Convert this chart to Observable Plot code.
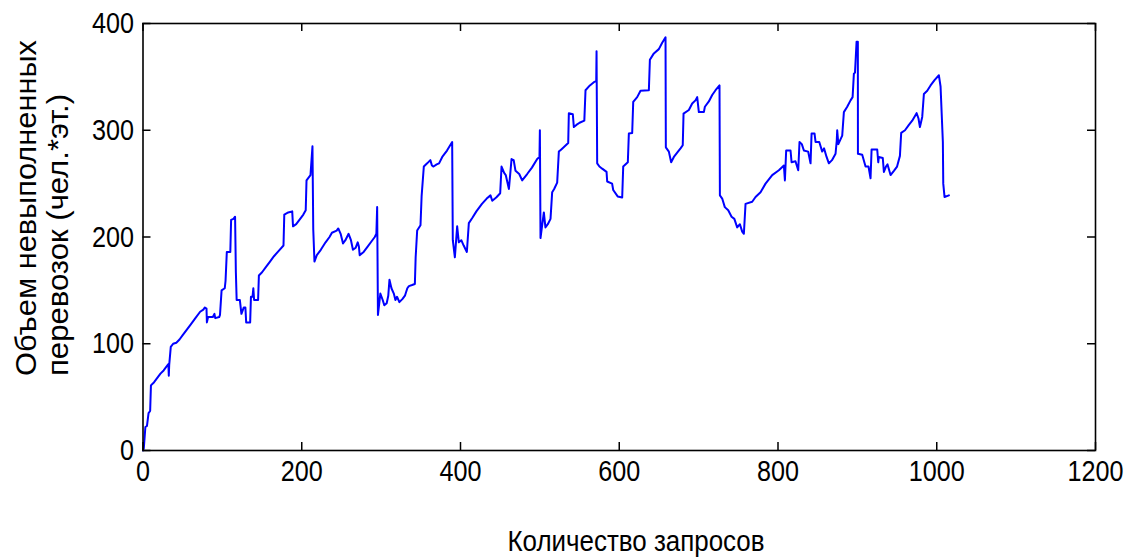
<!DOCTYPE html>
<html>
<head>
<meta charset="utf-8">
<script src="https://cdn.jsdelivr.net/npm/d3@7"></script>
<script src="https://cdn.jsdelivr.net/npm/@observablehq/plot@0.6"></script>
<style>
  html, body { margin: 0; padding: 0; background: #fff; }
  #chart svg { display: block; }
</style>
</head>
<body>
<div id="chart"></div>
<script>
// ---- data ----
const requests = [
  0,1,3,5,7,9,10,14,18,22,26,30,32,32.5,33,35,38,42,46,50,55,60,66,72,76,78,80,80.5,82,88,90,91,96,97,99,103,104,105.6,110,111,114,116,117,118,122,124,127,129,130,135,136,138,139,140,145,146,150,155,160,165,171,
  177,178,183,188,189,193,198,202,205,206,211,213.5,214.5,216,219,224,230,235,238,244,246,249,252,255,259,262,264.5,268,270.5,272,273,278,283,288,292,294,295,
  296,299,302,304,307,309,310.5,313,316,318,320,323,327,330,333,335,339,342.5,343.5,345.4,349.6,351,353.8,358,362,364,366,370,373,377,383,389.5,390.3,392.9,395.8,397.9,401,404,408,410.5,415,420,427,433,437.8,440,445,450,451.7,455,457,461,464.3,467,469.3,474,477.7,484,490,496.6,499.5,500,
  500.8,505,507,510,513.4,515.5,518,521.8,523.9,527,530,535.7,536.5,541.5,542.8,546,550,556,557.5,563,568,571,571.4,572.2,575,578.5,584,584.8,591,592.4,598,603.7,605,610.8,612.1,616.3,617.6,622.6,626.8,637.3,638.6,643.6,649.9,654.1,658.3,658.7,662.5,665.4,668.8,673,677.2,680,
  681,687.7,691.9,696,698.2,700.3,706.6,707.9,712.9,717.1,721.3,726.3,726.8,729.7,733,737.3,741.5,745,748.6,752,754.9,757,759.1,767.5,771.7,778,784.3,792.7,801.1,807.4,808.7,810.3,815.8,817.1,822,825.5,827.1,830,832.6,838,841,842.3,
  843.1,846,847.3,852,855.7,858,861.2,864.1,868,872.5,874,874.6,876,880.9,883,887.2,891.4,894,895.6,897,899,900.6,900.7,906.1,910.3,914,916.6,917.9,925,926.3,927,932,933.4,936,938,941.8,946,950,953.6,955.2,960,964.9,969.1,974.6,977,978.8,981.7,983.8,988,992.2,997.2,1002.7,1004.8,1007.7,1008.2,1009.8,1015.3
];
const volume = [
  0,2,22,23,35,37,61,64,68,72,75,79,81,70,80,97,100,101,104,108,113,118,124,130,132,134,133,120,125,125,128,124,125,127,150,152,159,186,186,216,217,219,167,141,141,128,134,134,120,120,144,144,152,141,141,164,167,172,177,182,187,
  192,221,223,224,210,212,217,221,225,253,258,285,207,177,183,188,195,200,204,206,208,203,194,197,203,197,188,190,195,191,183,186,191,196,200,203,228,
  127,147,141,136,138,145,160,152,147,141,144,139,142,145,152,154,155,156,181,206,211,238,266,269,272,267,266,268,269,275,281,289,197,181,210,195,197,192,186,213,218,224,231,236,239,234,237,241,266,260,258,245,273,272,262,259,253,259,265,273,275,300,
  199,223,209,212,217,242,245,251,280,282,284,288,316,315,303,305,307,309,337.5,342,345,346,374,269,266,264,261,252,250,244,238,237,266,270,297,297.5,326.5,331,337,337.5,366,372,376,382,387,284,280,270,275,279,283,286,
  315.6,319,325,328,331,317,317,322,327,333,337.5,342,239,236,228,225,219,217,209,212,205,203,231,233,237.5,242,250,258,262.5,267,253,281,281,270,271,262.5,289,287,281,280,269,297,
  297,297,289,289,280,283,275,269,272,278,290,300,287,295,317,322,328,331,353,354,383,383,278,277,266,266,255,282,282,270,275,274,261,266,268,258,262,266,276,297.5,300,305,309,316,311,303,312.5,334,337,342,347,351.5,341,289,250,237.5,239
];
const xTicks = [0, 200, 400, 600, 800, 1000, 1200];
const yTicks = [0, 100, 200, 300, 400];
const xLabel = "Количество запросов";
const yLabelLines = ["Объем невыполненных", "перевозок (чел.*эт.)"];

// ---- chart ----
const W = 1127, H = 558;
const mL = 142.5, mR = 32, mT = 23, mB = 108;
const innerW = W - mL - mR, innerH = H - mT - mB;
const tickLen = 8;
const font = "'Liberation Sans', Arial, sans-serif";
const narrow = 0.84;
const points = requests.map((x, i) => ({x, y: volume[i]}));

const chart = Plot.plot({
  width: W, height: H,
  marginLeft: mL, marginRight: mR, marginTop: mT, marginBottom: mB,
  style: {fontFamily: font, background: "#fff", color: "#000"},
  x: {domain: [0, 1200]},
  y: {domain: [0, 400]},
  marks: [
    Plot.line(points, {x: "x", y: "y", stroke: "#0000ff", strokeWidth: 2}),
    // inward ticks on all four sides
    Plot.tickX(xTicks, {x: d => d, insetTop: innerH - tickLen, stroke: "#000", strokeWidth: 1.5}),
    Plot.tickX(xTicks, {x: d => d, insetBottom: innerH - tickLen, stroke: "#000", strokeWidth: 1.5}),
    Plot.tickY(yTicks, {y: d => d, insetRight: innerW - tickLen, stroke: "#000", strokeWidth: 1.5}),
    Plot.tickY(yTicks, {y: d => d, insetLeft: innerW - tickLen, stroke: "#000", strokeWidth: 1.5}),
    Plot.frame({stroke: "#000", strokeWidth: 1.6}),
    Plot.axisX({ticks: xTicks, tickFormat: d => String(d), tickSize: 0, tickPadding: 9, fontSize: 30, label: null, anchor: "bottom"}),
    Plot.axisY({ticks: yTicks, tickFormat: d => String(d), tickSize: 0, tickPadding: 9, fontSize: 30, label: null, anchor: "left"})
  ]
});
document.getElementById("chart").appendChild(chart);

// narrow the tick label glyphs (the reference uses a condensed face)
d3.select(chart).selectAll('g[aria-label="x-axis tick label"] text, g[aria-label="y-axis tick label"] text')
  .each(function() {
    const t = this.getAttribute("transform");
    if (t) {
      this.setAttribute("transform", t + ` scale(${narrow},1)`);
    } else {
      const x = +this.getAttribute("x") || 0, y = +this.getAttribute("y") || 0;
      this.removeAttribute("x"); this.removeAttribute("y");
      this.setAttribute("transform", `translate(${x},${y}) scale(${narrow},1)`);
    }
  });

const svg = d3.select(chart);
svg.append("text")
  .attr("x", 636).attr("y", 540)
  .attr("text-anchor", "middle").attr("dominant-baseline", "central")
  .attr("font-family", font).attr("font-size", 30).attr("fill", "#000")
  .attr("textLength", 257).attr("lengthAdjust", "spacingAndGlyphs")
  .text(xLabel);
const lineX = [25, 57];
const lineLen = [336, 282];
yLabelLines.forEach((t, i) => {
  svg.append("text")
    .attr("transform", `translate(${lineX[i]},376) rotate(-90)`)
    .attr("text-anchor", "start").attr("dominant-baseline", "central")
    .attr("font-family", font).attr("font-size", 30).attr("fill", "#000")
    .attr("textLength", lineLen[i]).attr("lengthAdjust", "spacingAndGlyphs")
    .text(t);
});
</script>
</body>
</html>
